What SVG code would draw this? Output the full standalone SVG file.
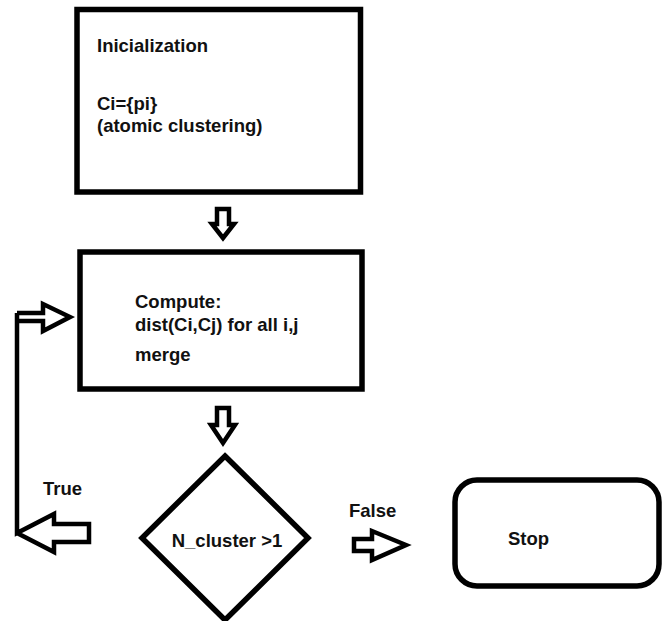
<svg xmlns="http://www.w3.org/2000/svg" width="662" height="621" viewBox="0 0 662 621">
<style>
.box{fill:#fff;stroke:#000;stroke-width:5.5}
.arr{fill:#fff;stroke:#000;stroke-width:4.5;stroke-linejoin:miter}
.t{font-family:"Liberation Sans",Arial,sans-serif;font-weight:bold;font-size:18.5px;fill:#111}
</style>
<rect width="662" height="621" fill="#fff"/>
<g id="init">
<rect class="box" x="77" y="9.5" width="283.5" height="182.5"/>
<text class="t" x="97" y="52">Inicialization</text>
<text class="t" x="97" y="110">Ci={pi}</text>
<text class="t" x="97" y="132">(atomic clustering)</text>
</g>
<g id="compute">
<rect class="box" x="80" y="252" width="282" height="137"/>
<text class="t" x="135" y="308">Compute:</text>
<text class="t" x="135" y="331">dist(Ci,Cj) for all i,j</text>
<text class="t" x="135" y="361">merge</text>
</g>
<g id="decision">
<polygon class="box" points="225,456 308,538 225,620 142,538"/>
<text class="t" x="227" y="547" text-anchor="middle">N_cluster &gt;1</text>
</g>
<g id="stop">
<rect class="box" x="455" y="480" width="204" height="106" rx="22"/>
<text class="t" x="508" y="545">Stop</text>
</g>
<g id="connectors">
<path class="arr" d="M217,209 L229,209 L229,224 L234,224 L223,238 L212,224 L217,224 Z"/>
<path class="arr" d="M217,408 L229,408 L229,425 L235,425 L223,443 L211,425 L217,425 Z"/>
<path class="arr" d="M17,313 L43,313 L43,304 L70,317 L43,331 L43,321 L17,321"/>
<path class="arr" d="M17,313 L17,533 L54,514 L54,524 L89,524 L89,542 L54,542 L54,552 L17,533" fill="none"/>
<path class="arr" d="M354,539 L372,539 L372,531 L406,545 L372,560 L372,551 L354,551 Z"/>
<text class="t" x="43" y="495">True</text>
<text class="t" x="349" y="517">False</text>
</g>
</svg>
